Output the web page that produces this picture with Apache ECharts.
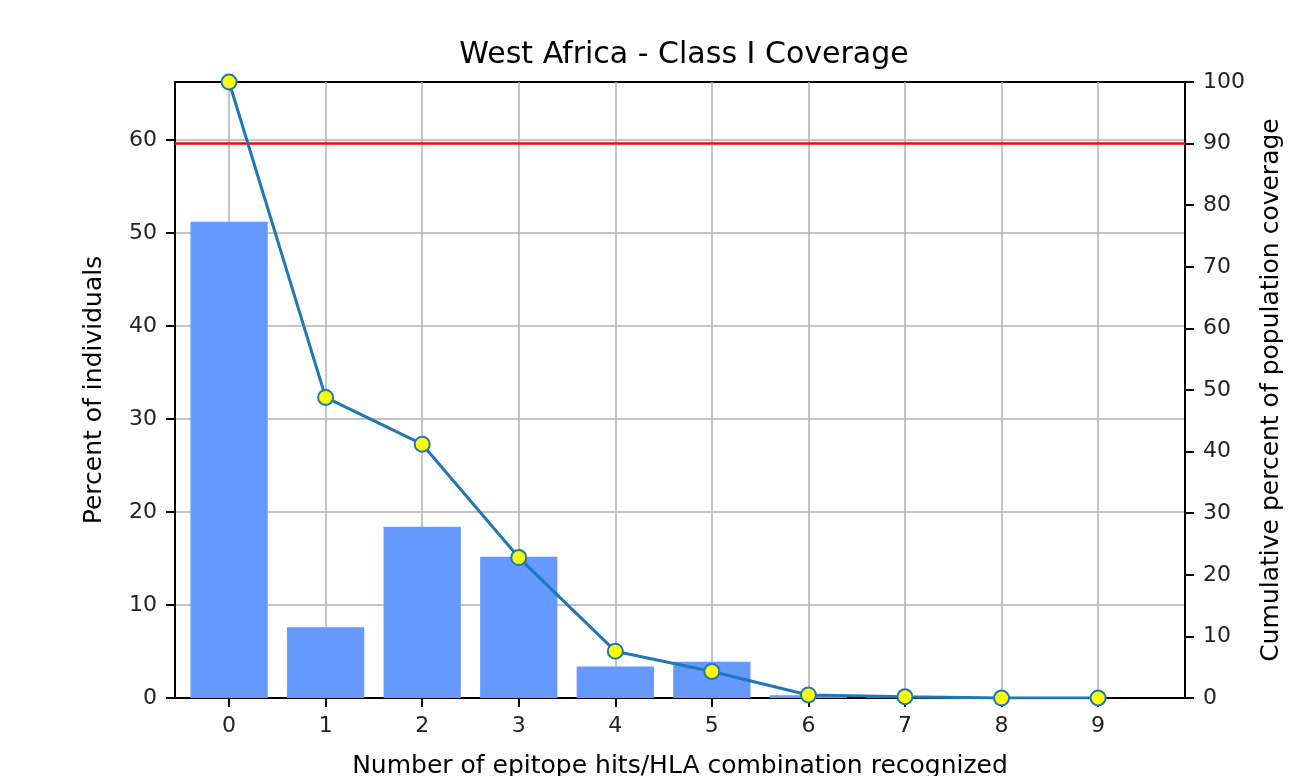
<!DOCTYPE html>
<html>
<head>
<meta charset="utf-8">
<script src="https://cdn.jsdelivr.net/npm/echarts@6/dist/echarts.min.js"></script>
<style>
html,body{margin:0;padding:0;background:#fff;}
#edge{position:absolute;left:10px;top:0;width:2px;height:776px;background:#dddddd;}
#chart{position:absolute;left:0;top:0;width:1297px;height:776px;}
</style>
</head>
<body>
<div id="edge"></div>
<div id="chart"></div>
<script>
const titleText = 'West Africa - Class I Coverage';
const xTitle = 'Number of epitope hits/HLA combination recognized';
const yLeftTitle = 'Percent of individuals';
const yRightTitle = 'Cumulative percent of population coverage';
const categories = [0, 1, 2, 3, 4, 5, 6, 7, 8, 9];
const percentIndividuals = [51.2, 7.6, 18.4, 15.2, 3.4, 3.9, 0.3, 0.1, 0.0, 0.0];
const cumulativeCoverage = [100, 48.8, 41.2, 22.8, 7.6, 4.3, 0.5, 0.2, 0.0, 0.0];
const leftTicks = [0, 10, 20, 30, 40, 50, 60];
const threshold = 90;

const font = 'DejaVu Sans';
const tickFont = 22;
const labelFont = 25;
const chart = echarts.init(document.getElementById('chart'), null, {renderer: 'canvas'});
chart.setOption({
  animation: false,
  backgroundColor: '#ffffff',
  title: {
    text: titleText, left: 679, top: 35, textAlign: 'center',
    textStyle: {fontFamily: font, fontSize: 30, fontWeight: 'normal', color: '#000'}
  },
  grid: {left: 175, right: 112, top: 82, bottom: 78, outerBoundsMode: 'none', containLabel: false,
         show: true, borderColor: '#000', borderWidth: 2, backgroundColor: 'transparent'},
  xAxis: {
    type: 'value', min: -0.56, max: 9.9,
    name: xTitle, nameLocation: 'middle', nameGap: 56,
    nameTextStyle: {fontFamily: font, fontSize: labelFont, color: '#000'},
    axisLine: {show: true, onZero: false, lineStyle: {color: '#000', width: 2}},
    axisTick: {show: true, customValues: categories, length: 9, lineStyle: {color: '#000', width: 2}},
    axisLabel: {customValues: categories, fontFamily: font, fontSize: tickFont, color: '#222', margin: 17},
    splitLine: {show: true, lineStyle: {color: '#b0b0b0', width: 1.5}}
  },
  yAxis: [
    {
      type: 'value', min: 0, max: 66.23, position: 'left',
      name: yLeftTitle, nameLocation: 'middle', nameGap: 68, nameRotate: 90,
      nameTextStyle: {fontFamily: font, fontSize: labelFont, color: '#000'},
      axisLine: {show: true, onZero: false, lineStyle: {color: '#000', width: 2}},
      axisTick: {show: true, customValues: leftTicks, length: 9, lineStyle: {color: '#000', width: 2}},
      axisLabel: {customValues: leftTicks, fontFamily: font, fontSize: tickFont, color: '#222', margin: 18},
      splitLine: {show: true, lineStyle: {color: '#b0b0b0', width: 1.5}}
    },
    {
      type: 'value', min: 0, max: 100, interval: 10, position: 'right',
      name: yRightTitle, nameLocation: 'middle', nameGap: 74, nameRotate: 90,
      nameTextStyle: {fontFamily: font, fontSize: labelFont, color: '#000'},
      axisLine: {show: true, onZero: false, lineStyle: {color: '#000', width: 2}},
      axisTick: {show: true, length: 9, lineStyle: {color: '#000', width: 2}},
      axisLabel: {fontFamily: font, fontSize: tickFont, color: '#222', margin: 18},
      splitLine: {show: false}
    }
  ],
  series: [
    {
      type: 'bar', yAxisIndex: 0, barWidth: '80%',
      data: categories.map((c, i) => [c, percentIndividuals[i]]),
      itemStyle: {color: '#6699ff'},
      z: 2
    },
    {
      type: 'line', yAxisIndex: 1,
      data: categories.map((c, i) => [c, cumulativeCoverage[i]]),
      lineStyle: {color: '#1f77b4', width: 3},
      itemStyle: {color: '#ffff00', borderColor: '#1f77b4', borderWidth: 2},
      symbol: 'circle', symbolSize: 15, showAllSymbol: true,
      z: 4,
      markLine: {
        silent: true, symbol: 'none', label: {show: false},
        lineStyle: {color: '#ff0000', width: 2.5, type: 'solid'},
        data: [{yAxis: threshold}],
        z: 3
      }
    }
  ]
});
</script>
</body>
</html>
